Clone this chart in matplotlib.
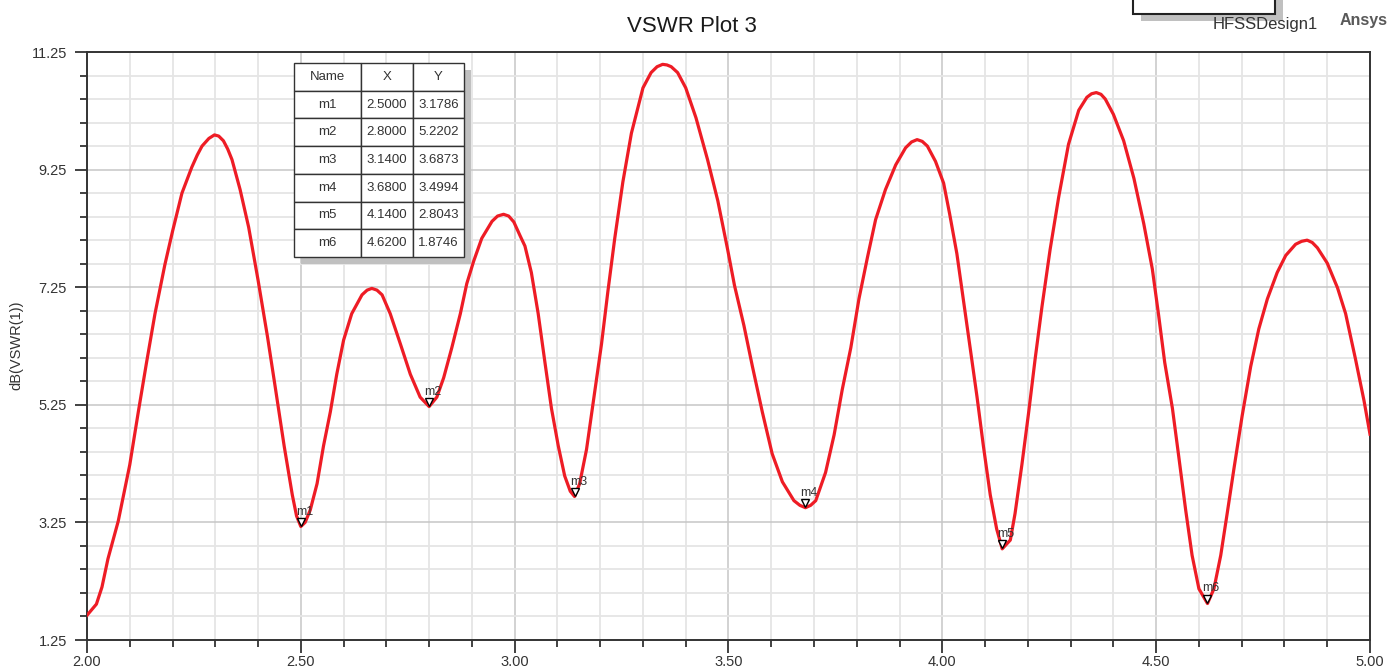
import numpy as np
import matplotlib
matplotlib.use("Agg")
import matplotlib.pyplot as plt
from matplotlib.patches import Rectangle
from matplotlib.transforms import ScaledTranslation

plt.rcParams['font.family'] = ['Liberation Sans', 'DejaVu Sans']

# ---- data ----
freq = [2.000, 2.022, 2.035, 2.049, 2.073, 2.100, 2.120, 2.139, 2.159, 2.182, 2.200,
        2.222, 2.245, 2.258, 2.269, 2.285, 2.298, 2.308, 2.319, 2.329, 2.339, 2.358, 2.378, 2.400,
        2.422, 2.441, 2.461, 2.480, 2.490, 2.500, 2.510, 2.522, 2.538, 2.553,
        2.569, 2.584, 2.600, 2.619, 2.643, 2.655, 2.666, 2.678, 2.690, 2.709, 2.733, 2.756,
        2.779, 2.800, 2.818, 2.834, 2.853, 2.873, 2.888, 2.904, 2.923, 2.947,
        2.960, 2.974, 2.986, 2.998, 3.013, 3.024, 3.039, 3.055, 3.071, 3.086, 3.102, 3.117,
        3.130, 3.140, 3.152, 3.168, 3.183, 3.203, 3.218, 3.234, 3.253, 3.273,
        3.300, 3.319, 3.333, 3.346, 3.356, 3.366, 3.381, 3.400, 3.424, 3.451, 3.475, 3.498,
        3.514, 3.536, 3.556, 3.579, 3.602, 3.626, 3.653, 3.667, 3.680, 3.692, 3.704, 3.727,
        3.747, 3.766, 3.786, 3.805, 3.825, 3.844, 3.867, 3.891, 3.914, 3.928, 3.941, 3.953,
        3.965, 3.984, 4.003, 4.017, 4.034, 4.049, 4.065, 4.081, 4.096, 4.112,
        4.127, 4.140, 4.159, 4.170, 4.186, 4.202, 4.217, 4.233, 4.252, 4.272,
        4.295, 4.319, 4.338, 4.349, 4.360, 4.371, 4.381, 4.400, 4.424, 4.448, 4.471, 4.491,
        4.506, 4.520, 4.538, 4.553, 4.569, 4.584, 4.600, 4.620, 4.635, 4.651,
        4.666, 4.682, 4.701, 4.721, 4.740, 4.760, 4.783, 4.803, 4.826, 4.840, 4.853,
        4.865, 4.877, 4.900, 4.924, 4.943, 4.966, 4.986, 5.000]
vswr_db = [1.67, 1.86, 2.15, 2.63, 3.27, 4.23, 5.13, 5.96, 6.80, 7.63, 8.20,
           8.85, 9.29, 9.50, 9.65, 9.78, 9.84, 9.82, 9.74, 9.60, 9.42, 8.91, 8.27, 7.37,
           6.41, 5.51, 4.55, 3.72, 3.36, 3.18, 3.25, 3.46, 3.91, 4.55,
           5.13, 5.77, 6.35, 6.80, 7.12, 7.20, 7.23, 7.20, 7.12, 6.80, 6.28, 5.77,
           5.38, 5.22, 5.38, 5.71, 6.22, 6.80, 7.31, 7.69, 8.08, 8.37,
           8.46, 8.49, 8.46, 8.36, 8.12, 7.95, 7.50, 6.80, 5.96, 5.19, 4.55, 4.04,
           3.78, 3.69, 3.91, 4.49, 5.26, 6.28, 7.18, 8.08, 9.04, 9.87,
           10.64, 10.90, 11.00, 11.04, 11.03, 11.00, 10.90, 10.64, 10.13, 9.42, 8.72, 7.89,
           7.28, 6.60, 5.90, 5.13, 4.42, 3.94, 3.62, 3.54, 3.50, 3.54, 3.62, 4.10,
           4.74, 5.51, 6.22, 7.05, 7.76, 8.40, 8.91, 9.33, 9.62, 9.72, 9.76, 9.73,
           9.65, 9.39, 9.02, 8.50, 7.82, 7.05, 6.22, 5.39, 4.55, 3.72,
           3.14, 2.80, 2.95, 3.40, 4.23, 5.13, 6.03, 6.92, 7.89, 8.78,
           9.68, 10.26, 10.48, 10.54, 10.56, 10.53, 10.45, 10.19, 9.74, 9.10, 8.33, 7.56,
           6.76, 5.97, 5.19, 4.36, 3.46, 2.69, 2.12, 1.87, 2.12, 2.69,
           3.40, 4.17, 5.06, 5.90, 6.54, 7.05, 7.50, 7.79, 7.98, 8.03, 8.05,
           8.01, 7.92, 7.66, 7.24, 6.80, 6.03, 5.32, 4.75]

marker_names = ['m1', 'm2', 'm3', 'm4', 'm5', 'm6']
marker_x = [2.5000, 2.8000, 3.1400, 3.6800, 4.1400, 4.6200]
marker_y = [3.1786, 5.2202, 3.6873, 3.4994, 2.8043, 1.8746]

x_major = [2.00, 2.50, 3.00, 3.50, 4.00, 4.50, 5.00]
y_major = [1.25, 3.25, 5.25, 7.25, 9.25, 11.25]

# ---- figure ----
W, H = 1390, 671
fig = plt.figure(figsize=(W / 100, H / 100), dpi=100)
L, R, T, B = 87, 1370, 52, 640
ax = fig.add_axes([L / W, 1 - B / H, (R - L) / W, (B - T) / H])

ax.set_xlim(2.0, 5.0)
ax.set_ylim(1.25, 11.25)
ax.set_xticks(x_major)
ax.set_xticklabels([f"{v:.2f}" for v in x_major])
ax.set_xticks(np.arange(2.0, 5.0001, 0.1), minor=True)
ax.set_yticks(y_major)
ax.set_yticklabels([f"{v:.2f}" for v in y_major])
ax.set_yticks(np.arange(1.25, 11.2501, 0.4), minor=True)

ax.grid(which='minor', color='#e5e5e5', lw=1.3, zorder=0)
ax.grid(which='major', color='#c6c6c6', lw=1.1, zorder=0)
ax.set_axisbelow(True)

ax.tick_params(which='major', direction='out', length=9, width=1.3,
               color='#333333', labelsize=10.5, labelcolor='#333333')
ax.tick_params(axis='y', which='major', pad=5.5)
ax.tick_params(axis='x', which='major', pad=2)
ax.tick_params(which='minor', direction='out', length=5, width=1.3,
               color='#333333')
for s in ax.spines.values():
    s.set_color('#333333')
    s.set_linewidth(1.4)

ax.plot(freq, vswr_db, color='#ee1c25', lw=2.3, zorder=3,
        solid_joinstyle='round')

# markers: triangle tip sits on the data point
tri_trans = ax.transData + ScaledTranslation(0, 3.2 / 72, fig.dpi_scale_trans)
ax.plot(marker_x, marker_y, linestyle='none', marker='v', markersize=6,
        markerfacecolor='white', markeredgecolor='black', markeredgewidth=1.0,
        transform=tri_trans, zorder=4)
for n, mx, my in zip(marker_names, marker_x, marker_y):
    ax.annotate(n, (mx, my), xytext=(-3.5, 6.5), textcoords='offset points',
                fontsize=9, color='#333333', ha='left', va='bottom', zorder=5)

# marker table
tl, tr, tt, tb = 294, 464, 63, 257
bx = (tl - L) / (R - L)
bw = (tr - tl) / (R - L)
by = (B - tb) / (B - T)
bh = (tb - tt) / (B - T)
dx, dy = 7 / (R - L), 7 / (B - T)
shadow = Rectangle((bx + dx, by - dy), bw, bh, transform=ax.transAxes,
                   facecolor='#c0c0c0', edgecolor='none', zorder=6)
ax.add_patch(shadow)
cell_text = [[n, f"{x:.4f}", f"{y:.4f}"] for n, x, y in zip(marker_names, marker_x, marker_y)]
tab = ax.table(cellText=cell_text, colLabels=['Name', 'X', 'Y'],
               cellLoc='center', colWidths=[0.392, 0.306, 0.302],
               bbox=[bx, by, bw, bh], zorder=7)
tab.auto_set_font_size(False)
tab.set_fontsize(9.5)
for cell in tab.get_celld().values():
    cell.set_edgecolor('#333333')
    cell.set_linewidth(1.0)
    cell.set_facecolor('white')
    cell.get_text().set_color('#333333')

# titles and labels
fig.text(692 / W, 1 - 26 / H, 'VSWR Plot 3', ha='center', va='center',
         fontsize=16, color='#1a1a1a')
fig.text(16 / W, 1 - 345 / H, 'dB(VSWR(1))', ha='center', va='center',
         rotation=90, fontsize=10.5, color='#333333')

# clipped legend box at top right
fig.patches.append(Rectangle((1141 / W, 1 - 21 / H), 142 / W, 40 / H,
                             transform=fig.transFigure, facecolor='#c0c0c0',
                             edgecolor='none', zorder=1))
fig.patches.append(Rectangle((1133 / W, 1 - 14 / H), 142 / W, 40 / H,
                             transform=fig.transFigure, facecolor='white',
                             edgecolor='#222222', lw=1.5, zorder=2))
fig.text(1213 / W, 1 - 25 / H, 'HFSSDesign1', ha='left', va='center',
         fontsize=12, color='#333333', zorder=3)
fig.text(1340 / W, 1 - 21 / H, 'Ansys', ha='left', va='center',
         fontsize=11.5, fontweight='bold', color='#595959', zorder=3)

fig.savefig('out.png', dpi=100)
